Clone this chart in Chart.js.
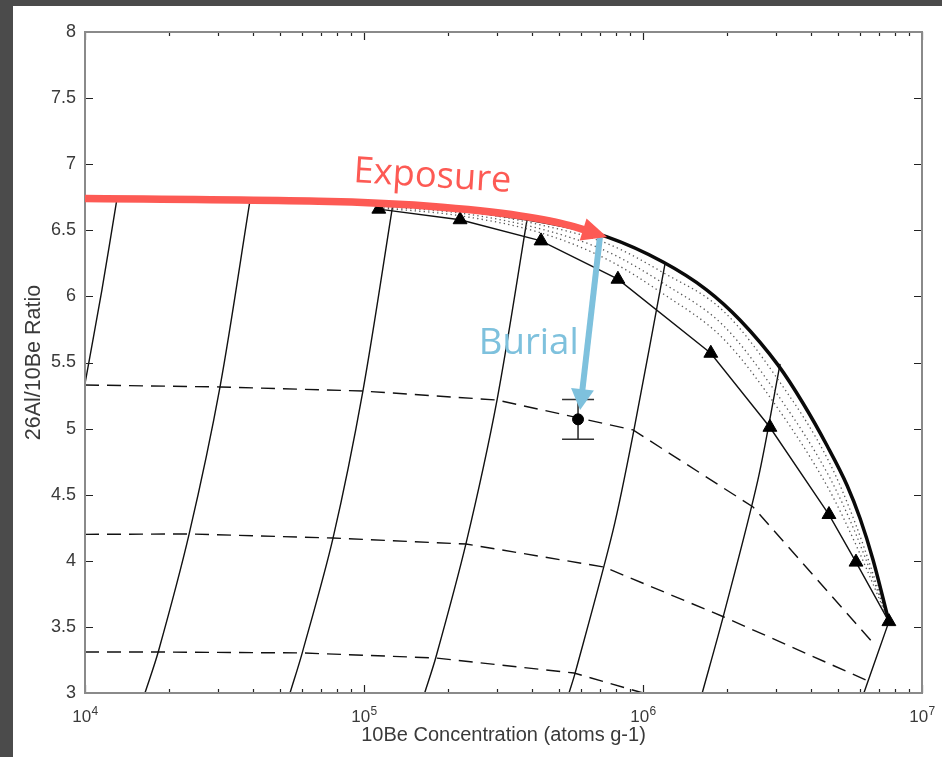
<!DOCTYPE html>
<html>
<head>
<meta charset="utf-8">
<script src="https://cdn.jsdelivr.net/npm/chart.js@4.4.0/dist/chart.umd.min.js"></script>
<style>
  html, body { margin: 0; padding: 0; background: #4b4b4b; }
  #wrap { position: absolute; left: 13px; top: 6px; width: 929px; height: 751px; background: #fff; }
</style>
</head>
<body>
<div id="wrap"><canvas id="myChart"></canvas></div>
<script>
// constant exposure curve (thick line)
const exposureX = [1e4, 3.9e4, 1.27e5, 3.0e5, 5.04e5, 7.43e5, 1.18e6, 1.69e6, 2.23e6, 3.05e6, 3.75e6, 4.57e6, 5.39e6, 6.0e6, 6.67e6, 7.61e6];
const exposureY = [6.74, 6.73, 6.70, 6.62, 6.54, 6.45, 6.26, 6.05, 5.82, 5.48, 5.19, 4.87, 4.57, 4.32, 4.01, 3.54];

// erosion curve with triangle markers
const erosionX = [1.13e5, 2.21e5, 4.31e5, 8.13e5, 1.75e6, 2.85e6, 4.64e6, 5.80e6, 7.61e6];
const erosionY = [6.66, 6.58, 6.42, 6.13, 5.57, 5.01, 4.35, 3.99, 3.54];

// dotted curves in between
const dottedX = [1.13e5, 2.21e5, 4.31e5, 7.43e5, 1.18e6, 1.94e6, 3.05e6, 4.64e6, 5.80e6, 7.61e6];
const dotted1Y = [6.70, 6.65, 6.54, 6.40, 6.18, 5.89, 5.37, 4.75, 4.27, 3.54];
const dotted2Y = [6.68, 6.63, 6.51, 6.34, 6.10, 5.78, 5.25, 4.64, 4.20, 3.54];
const dotted3Y = [6.67, 6.61, 6.48, 6.28, 6.02, 5.68, 5.15, 4.54, 4.12, 3.54];

// burial paths (solid)
const path1X = [1.30e4, 1.15e4, 1.0e4];
const path1Y = [6.73, 6.05, 5.34];
const path2X = [3.90e4, 3.05e4, 2.36e4, 1.83e4, 1.64e4];
const path2Y = [6.72, 5.32, 4.20, 3.31, 3.0];
const path3X = [1.27e5, 9.92e4, 7.74e4, 6.00e4, 5.43e4];
const path3Y = [6.70, 5.29, 4.17, 3.30, 3.0];
const path4X = [3.84e5, 3.00e5, 2.32e5, 1.81e5, 1.65e5];
const path4Y = [6.58, 5.22, 4.13, 3.27, 3.0];
const path5X = [1.20e6, 9.28e5, 7.81e5, 5.71e5, 5.43e5];
const path5Y = [6.25, 4.99, 4.23, 3.15, 3.0];
const path6X = [3.10e6, 2.58e6, 1.94e6, 1.63e6];
const path6Y = [5.49, 4.61, 3.58, 3.0];
const path7X = [7.61e6, 6.19e6];
const path7Y = [3.54, 3.0];

// burial isochrons (dashed), vertices where they cross the paths
const iso1X = [1e4, 3.05e4, 9.92e4, 3.00e5, 9.21e5, 2.48e6, 6.78e6];
const iso1Y = [5.33, 5.315, 5.284, 5.216, 4.99, 4.407, 3.363];
const iso2X = [1e4, 2.36e4, 7.74e4, 2.32e5, 7.25e5, 1.95e6, 6.30e6];
const iso2Y = [4.20, 4.203, 4.172, 4.127, 3.953, 3.575, 3.098];
const iso3X = [1e4, 1.83e4, 6.00e4, 1.81e5, 5.66e5, 1.0e6];
const iso3Y = [3.31, 3.31, 3.303, 3.265, 3.151, 3.0];

// sample with error bar
const sampleX = [5.85e5];
const sampleY = [5.07];
const sampleLow = [4.92];
const sampleHigh = [5.22];

// annotation arrows
const exposureArrowX = [1e4, 3.9e4, 1.21e5, 3.0e5, 5.04e5, 7.43e5];
const exposureArrowY = [6.74, 6.73, 6.71, 6.64, 6.56, 6.45];
const burialArrowX = [7.01e5, 5.95e5];
const burialArrowY = [6.45, 5.14];

const yTicks = [3, 3.5, 4, 4.5, 5, 5.5, 6, 6.5, 7, 7.5, 8];

const RED = '#fd5a54';
const BLUE = '#7ec1dd';
const TEXT = '#3a3a3a';
const SANS = '"Liberation Sans", Arial, sans-serif';

function pts(xs, ys) {
    return xs.map((v, i) => ({x: v, y: ys[i]}));
}

function lineSet(xs, ys, extra) {
    return Object.assign({
        data: pts(xs, ys),
        showLine: true,
        pointRadius: 0,
        borderColor: '#111',
        borderWidth: 1.4,
        tension: 0.3,
        fill: false
    }, extra);
}

function drawArrow(ctx, chart, xs, ys, color, width, headLen, headHalf) {
    const sx = chart.scales.x, sy = chart.scales.y;
    const p = xs.map((v, i) => [sx.getPixelForValue(v), sy.getPixelForValue(ys[i])]);
    const tip = p[p.length - 1], prev = p[p.length - 2];
    let dx = tip[0] - prev[0], dy = tip[1] - prev[1];
    const len = Math.sqrt(dx * dx + dy * dy);
    dx /= len; dy /= len;
    const base = [tip[0] - dx * headLen, tip[1] - dy * headLen];
    const q = p.slice(0, -1).concat([[base[0] + dx * 4, base[1] + dy * 4]]);
    ctx.save();
    ctx.strokeStyle = color;
    ctx.lineWidth = width;
    ctx.lineJoin = 'round';
    ctx.beginPath();
    ctx.moveTo(q[0][0], q[0][1]);
    for (let i = 1; i < q.length - 1; i++) {
        const mx = (q[i][0] + q[i + 1][0]) / 2, my = (q[i][1] + q[i + 1][1]) / 2;
        ctx.quadraticCurveTo(q[i][0], q[i][1], mx, my);
    }
    ctx.lineTo(q[q.length - 1][0], q[q.length - 1][1]);
    ctx.stroke();
    ctx.fillStyle = color;
    ctx.beginPath();
    ctx.moveTo(tip[0], tip[1]);
    ctx.lineTo(base[0] - dy * headHalf, base[1] + dx * headHalf);
    ctx.lineTo(base[0] + dy * headHalf, base[1] - dx * headHalf);
    ctx.closePath();
    ctx.fill();
    ctx.restore();
}

function fitFont(ctx, text, weight, family, targetWidth) {
    ctx.font = weight + ' 36px ' + family;
    const w = ctx.measureText(text).width;
    const size = 36 * targetWidth / w;
    ctx.font = weight + ' ' + size.toFixed(1) + 'px ' + family;
}

const overlay = {
    id: 'overlay',
    beforeDatasetsDraw(chart) {
        const {ctx, scales: {x, y}} = chart;
        ctx.save();
        ctx.strokeStyle = '#333';
        ctx.lineWidth = 1.6;
        ctx.beginPath();
        sampleX.forEach((v, i) => {
            const px = x.getPixelForValue(v);
            const lo = y.getPixelForValue(sampleLow[i]);
            const hi = y.getPixelForValue(sampleHigh[i]);
            ctx.moveTo(px, lo); ctx.lineTo(px, hi);
            ctx.moveTo(px - 16, lo); ctx.lineTo(px + 16, lo);
            ctx.moveTo(px - 16, hi); ctx.lineTo(px + 16, hi);
        });
        ctx.stroke();
        ctx.restore();
    },
    afterDatasetsDraw(chart) {
        const {ctx, chartArea: a, scales: {x, y}} = chart;
        ctx.save();
        // inward tick marks on all four sides
        ctx.strokeStyle = '#222';
        ctx.lineWidth = 1.2;
        ctx.beginPath();
        const e0 = Math.round(Math.log10(x.min)), e1 = Math.round(Math.log10(x.max));
        for (let e = e0; e <= e1; e++) {
            for (let m = 1; m <= 9; m++) {
                const v = m * Math.pow(10, e);
                if (v > x.max * 1.0001) break;
                const px = Math.round(x.getPixelForValue(v)) + 0.5;
                const len = m === 1 ? 8 : 4;
                ctx.moveTo(px, a.bottom); ctx.lineTo(px, a.bottom - len);
                ctx.moveTo(px, a.top); ctx.lineTo(px, a.top + len);
            }
        }
        y.ticks.forEach(t => {
            const py = Math.round(y.getPixelForValue(t.value)) + 0.5;
            ctx.moveTo(a.left, py); ctx.lineTo(a.left + 8, py);
            ctx.moveTo(a.right, py); ctx.lineTo(a.right - 8, py);
        });
        ctx.stroke();
        ctx.strokeStyle = '#8a8a8a';
        ctx.lineWidth = 2;
        ctx.strokeRect(a.left, a.top, a.right - a.left, a.bottom - a.top);

        // x tick labels: 10 with a raised exponent
        ctx.fillStyle = TEXT;
        ctx.textBaseline = 'alphabetic';
        ctx.textAlign = 'left';
        x.ticks.forEach(t => {
            const e = Math.log10(t.value);
            if (Math.abs(e - Math.round(e)) > 1e-9) return;
            const exp = String(Math.round(e));
            const px = x.getPixelForValue(t.value);
            ctx.font = '17px ' + SANS;
            const wb = ctx.measureText('10').width;
            ctx.font = '12px ' + SANS;
            const we = ctx.measureText(exp).width;
            const left = px - (wb + we) / 2;
            ctx.font = '17px ' + SANS;
            ctx.fillText('10', left, a.bottom + 29);
            ctx.font = '12px ' + SANS;
            ctx.fillText(exp, left + wb + 0.5, a.bottom + 22);
        });
        ctx.restore();

        drawArrow(ctx, chart, burialArrowX, burialArrowY, BLUE, 6, 21, 11.5);
        drawArrow(ctx, chart, exposureArrowX, exposureArrowY, RED, 7.5, 25, 11.5);

        ctx.save();
        fitFont(ctx, 'Exposure', 'normal', '"Open Sans", "Noto Sans", sans-serif', 158);
        ctx.textBaseline = 'alphabetic';
        ctx.fillStyle = RED;
        ctx.translate(x.getPixelForValue(9.13e4), y.getPixelForValue(6.865));
        ctx.rotate(3.6 * Math.PI / 180);
        ctx.fillText('Exposure', 0, 0);
        ctx.restore();

        ctx.save();
        fitFont(ctx, 'Burial', 'normal', '"Open Sans", "Noto Sans", sans-serif', 100);
        ctx.textBaseline = 'alphabetic';
        ctx.fillStyle = BLUE;
        ctx.fillText('Burial', x.getPixelForValue(2.58e5), y.getPixelForValue(5.564));
        ctx.restore();
    }
};

const dashStyle = {borderDash: [14, 8], borderWidth: 1.4, tension: 0};
const dotStyle = {borderDash: [1.3, 3.2], borderWidth: 1.3, borderColor: '#555', cubicInterpolationMode: 'monotone'};

const data = {
    datasets: [
        {
            data: pts(sampleX, sampleY),
            pointStyle: 'circle',
            pointRadius: 5.5,
            pointBackgroundColor: '#000',
            pointBorderColor: '#000',
            showLine: false
        },
        lineSet(erosionX, erosionY, {
            tension: 0,
            pointStyle: 'triangle',
            pointRadius: 8,
            pointBackgroundColor: '#000',
            pointBorderColor: '#000',
            pointBorderWidth: 1
        }),
        lineSet(exposureX, exposureY, {borderWidth: 3.5, borderColor: '#0a0a0a', cubicInterpolationMode: 'monotone'}),
        lineSet(dottedX, dotted1Y, dotStyle),
        lineSet(dottedX, dotted2Y, dotStyle),
        lineSet(dottedX, dotted3Y, dotStyle),
        lineSet(path1X, path1Y),
        lineSet(path2X, path2Y),
        lineSet(path3X, path3Y),
        lineSet(path4X, path4Y),
        lineSet(path5X, path5Y),
        lineSet(path6X, path6Y),
        lineSet(path7X, path7Y),
        lineSet(iso1X, iso1Y, dashStyle),
        lineSet(iso2X, iso2Y, dashStyle),
        lineSet(iso3X, iso3Y, dashStyle)
    ]
};

const config = {
    type: 'scatter',
    data: data,
    options: {
        responsive: true,
        maintainAspectRatio: false,
        animation: false,
        layout: {
            padding: {left: 0, right: 20, top: 26, bottom: 0}
        },
        plugins: {
            legend: {display: false},
            tooltip: {enabled: false}
        },
        scales: {
            x: {
                type: 'logarithmic',
                min: 1e4,
                max: 1e7,
                grid: {display: false, drawTicks: false},
                border: {display: false},
                ticks: {display: false, autoSkip: false},
                title: {
                    display: true,
                    text: '10Be Concentration (atoms g-1)',
                    color: TEXT,
                    font: {family: SANS, size: 20},
                    padding: {top: 0, bottom: 10}
                },
                afterFit: function(scale) {
                    scale.height = 64;
                    scale.paddingLeft = 0;
                    scale.paddingRight = 0;
                }
            },
            y: {
                type: 'linear',
                min: 3,
                max: 8,
                afterBuildTicks: function(scale) {
                    scale.ticks = yTicks.map(v => ({value: v}));
                },
                grid: {display: false, drawTicks: false},
                border: {display: false},
                ticks: {
                    padding: 9,
                    color: TEXT,
                    font: {family: SANS, size: 18},
                    callback: function(v) { return String(v); }
                },
                title: {
                    display: true,
                    text: '26Al/10Be Ratio',
                    color: TEXT,
                    font: {family: SANS, size: 21.5},
                    padding: {top: 8, bottom: 0}
                },
                afterFit: function(scale) { scale.width = 72; }
            }
        }
    },
    plugins: [overlay]
};

const myChart = new Chart(document.getElementById('myChart'), config);
</script>
</body>
</html>
